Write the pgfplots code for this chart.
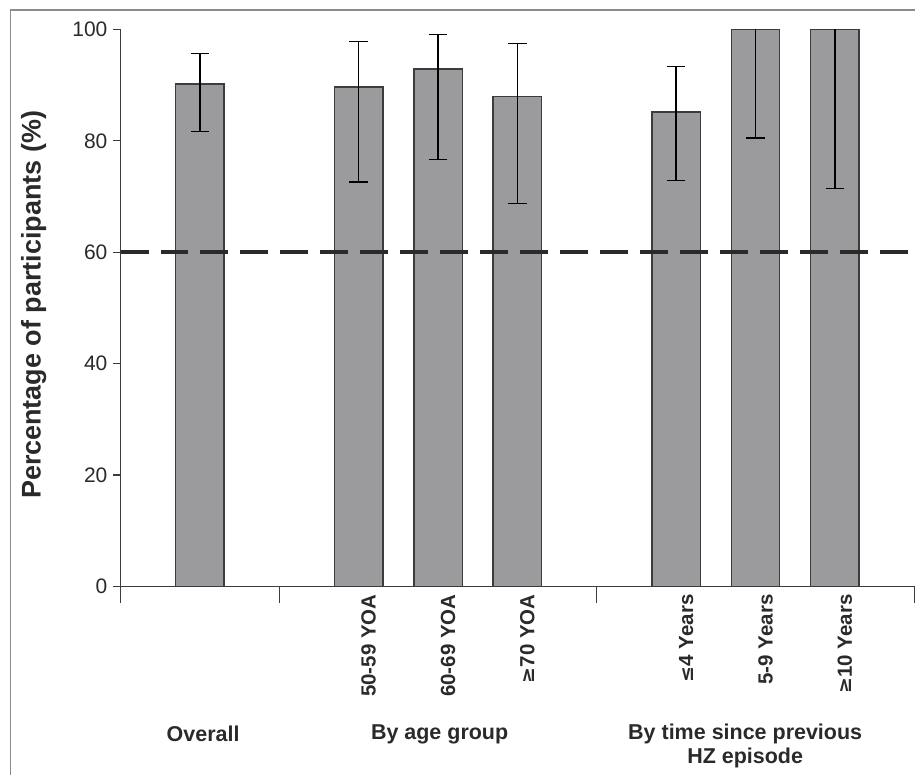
\documentclass[border=0pt]{standalone}
\usepackage{fontspec}
\setmainfont{Liberation Sans}
\usepackage{pgfplots}
\pgfplotsset{compat=1.18}
\definecolor{barfill}{HTML}{9B9B9D}
\definecolor{baredge}{HTML}{3C3C3C}
\definecolor{txt}{HTML}{2A2A2A}
\definecolor{frame}{HTML}{8C8C8C}
\begin{document}
\begin{tikzpicture}
\begin{axis}[
  scale only axis,
  width=794.6bp, height=557.5bp,
  xmin=-1, xmax=9, ymin=0, ymax=100,
  axis x line*=bottom, axis y line*=left,
  axis line style={line width=1.2bp, color=baredge},
  clip=false,
  ybar, bar width=48.5bp, bar shift=0pt,
  ytick={0,20,40,60,80,100},
  yticklabels={0,20,40,60,80,100},
  tick align=outside,
  major tick length=8bp,
  ytick style={line width=1.2bp, color=baredge},
  xtick={0,2,3,4,6,7,8},
  xticklabels={,50-59 YOA,60-69 YOA,{\fontspec{DejaVu Sans}\bfseries\fontsize{19bp}{20bp}\selectfont ≥}70 YOA,{\fontspec{DejaVu Sans}\bfseries\fontsize{19bp}{20bp}\selectfont ≤}4 Years,5-9 Years,{\fontspec{DejaVu Sans}\bfseries\fontsize{19bp}{20bp}\selectfont ≥}10 Years},
  xtick style={draw=none},
  xticklabel style={rotate=90, anchor=east, inner sep=0pt, font=\bfseries\fontsize{20.5bp}{23bp}\selectfont, text=txt, yshift=-10bp},
  yticklabel style={font=\fontsize{21bp}{24bp}\selectfont, text=txt, inner sep=0pt, xshift=-5bp},
  ylabel={Percentage of participants (\%)},
  every axis y label/.style={at={(rel axis cs:0,0.5)}, xshift=-87bp, yshift=3bp, rotate=90, anchor=center, font=\bfseries\fontsize{27bp}{30bp}\selectfont, text=txt},
]
\addplot[fill=barfill, draw=baredge, line width=1.4bp,
  error bars/.cd, y dir=both, y explicit,
  error bar style={line width=1.3bp, color=black},
  error mark options={rotate=90, mark size=9.3bp, line width=1.3bp, color=black}]
  coordinates {
  (0,90.2) += (0,5.5) -= (0,8.5)
  (2,89.7) += (0,8.1) -= (0,17.1)
  (3,92.9) += (0,6.2) -= (0,16.3)
  (4,88.0) += (0,9.5) -= (0,19.2)
  (6,85.2) += (0,8.2) -= (0,12.3)
  };
\addplot[fill=barfill, draw=baredge, line width=1.4bp,
  error bars/.cd, y dir=minus, y explicit,
  error bar style={line width=1.3bp, color=black},
  error mark options={rotate=90, mark size=9.3bp, line width=1.3bp, color=black}]
  coordinates {
  (7,100) -= (0,19.5)
  (8,100) -= (0,28.5)
  };
\addplot[sharp plot, no marks, line width=3.5bp, color=txt, dash pattern=on 28bp off 12bp]
  coordinates {(-1,60) (9,60)};
\draw[line width=1.2bp, color=baredge] (axis cs:-1,0) -- ([yshift=-17bp]axis cs:-1,0);
\draw[line width=1.2bp, color=baredge] (axis cs:1,0) -- ([yshift=-17bp]axis cs:1,0);
\draw[line width=1.2bp, color=baredge] (axis cs:5,0) -- ([yshift=-17bp]axis cs:5,0);
\draw[line width=1.2bp, color=baredge] (axis cs:9,0) -- ([yshift=-17bp]axis cs:9,0);
\node[font=\bfseries\fontsize{21.5bp}{24bp}\selectfont, text=txt] at (axis cs:0.04,0) [yshift=-148bp] {Overall};
\node[font=\bfseries\fontsize{21.5bp}{24bp}\selectfont, text=txt] at (axis cs:3.02,0) [yshift=-148bp] {By age group};
\node[font=\bfseries\fontsize{21.5bp}{24bp}\selectfont, text=txt, align=center, anchor=north] at (axis cs:6.87,0) [yshift=-134bp] {By time since previous\\HZ episode};
\coordinate (SW) at (rel axis cs:0,0);
\end{axis}
\draw[frame, line width=1.3bp] ([shift={(-110bp,-189bp)}]SW) -- ([shift={(-110bp,577bp)}]SW) -- ([shift={(795.3bp,577bp)}]SW);
\path[use as bounding box] ([shift={(-120.7bp,-189bp)}]SW) rectangle ([shift={(795.3bp,587bp)}]SW);
\end{tikzpicture}
\end{document}
